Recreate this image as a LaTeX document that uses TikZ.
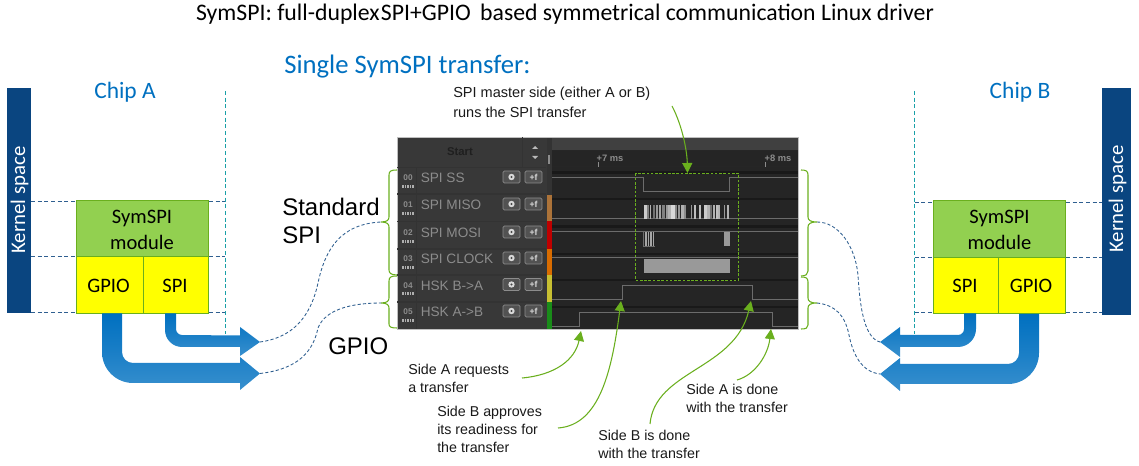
\documentclass[tikz,border=0pt]{standalone}
\usepackage{fontspec}
\setmainfont{Carlito}
\newfontfamily\arialf{Liberation Sans}
\usetikzlibrary{arrows.meta,calc}
\definecolor{bandblue}{HTML}{0A4580}
\definecolor{modgreen}{HTML}{92D050}
\definecolor{modyel}{HTML}{FFFF00}
\definecolor{edgegreen}{HTML}{6AAF1E}
\definecolor{headblue}{HTML}{0070C0}
\definecolor{dashblue}{HTML}{2F5F90}
\definecolor{tealdash}{HTML}{1AA0A8}
\definecolor{panel}{HTML}{383838}
\definecolor{panelhi}{HTML}{404040}
\definecolor{track}{HTML}{252525}
\definecolor{sig}{HTML}{6C6C6C}
\definecolor{lab}{HTML}{8C8C8C}
\tikzset{
  x=0.75pt,y=-0.75pt,
  kernelbar/.style={fill=bandblue,draw=none},
  kerneltxt/.style={rotate=90,text=white,font=\fontsize{15.6}{18}\selectfont,inner sep=0},
  modtop/.style={fill=modgreen,draw=edgegreen,line width=0.7pt},
  modbot/.style={fill=modyel,draw=edgegreen,line width=0.7pt},
  modtxt/.style={font=\fontsize{15.4}{19.5}\selectfont,align=center,inner sep=0},
  spacedash/.style={dash pattern=on 3pt off 2pt,draw=dashblue,line width=0.6pt},
  chipdash/.style={dash pattern=on 3pt off 2pt,draw=tealdash,line width=0.6pt},
  linkdash/.style={dash pattern=on 2.4pt off 1.6pt,draw=dashblue,line width=0.65pt},
  brace/.style={draw=edgegreen,line width=0.8pt},
  note/.style={font=\arialf\fontsize{10.7}{13.6}\selectfont,align=left,anchor=north west,inner sep=0,text=black!90},
  callout/.style={draw=edgegreen,line width=0.8pt,-{Triangle[length=7.5pt,width=7.5pt,fill=edgegreen]}},
  bigtxt/.style={font=\arialf\fontsize{18}{21}\selectfont,inner sep=0,anchor=west},
  chiptxt/.style={text=headblue,font=\fontsize{17.6}{20}\selectfont,inner sep=0},
  signal/.style={draw=sig,line width=0.75pt},
  rowlab/.style={font=\arialf\fontsize{10.2}{12}\selectfont,text=lab,anchor=west,inner sep=0},
  rownum/.style={font=\arialf\bfseries\fontsize{6.2}{7}\selectfont,text=lab,inner sep=0},
  btn/.style={fill=black!68,draw=black!45,rounded corners=1pt,line width=0.5pt},
  flowshade/.style={top color=headblue,bottom color=headblue!78!white,draw=none,middle color=headblue!90!white},
}
\begin{document}
\begin{tikzpicture}
\useasboundingbox (0,0) rectangle (1139,466);
\node[font=\fontsize{17.8}{20}\selectfont,inner sep=0] (title) at (565,14) {SymSPI: full-duplex\hspace{1pt}SPI+GPIO\hspace{7pt}based symmetrical communication Linux driver};
\node[font=\fontsize{20}{23}\selectfont,text=headblue,inner sep=0,anchor=west] (single) at (284,67) {Single SymSPI transfer:};
\node[chiptxt] (chipa) at (125,92) {Chip A};
\node[chiptxt] (chipb) at (1020,92) {Chip B};

% left chip
\draw[chipdash] (225,91) -- (225,334);
\draw[spacedash] (31,201) -- (76,201) (209,201) -- (225,201);
\draw[spacedash] (31,256) -- (76,256) (209,256) -- (225,256);
\draw[spacedash] (31,312.5) -- (76,312.5) (209,312.5) -- (225,312.5);
\fill[kernelbar] (7,88) rectangle (31,313);
\node[kerneltxt] (kernA) at (19.5,200) {Kernel space};
\draw[modtop] (76.5,200.5) rectangle (208.5,256);
\node[modtxt] (modA) at (142,230) {SymSPI\\module};
\draw[modbot] (76.5,256) rectangle (143.5,313);
\draw[modbot] (143.5,256) rectangle (208.5,313);
\node[modtxt] (gpioA) at (108.5,286) {GPIO};
\node[modtxt] (spiA) at (175,286) {SPI};

% right chip
\draw[chipdash] (914.5,91) -- (914.5,334);
\draw[spacedash] (914.5,202) -- (933,202) (1066,202) -- (1102,202);
\draw[spacedash] (914.5,257) -- (933,257) (1066,257) -- (1102,257);
\draw[spacedash] (914.5,312.5) -- (933,312.5) (1066,312.5) -- (1102,312.5);
\fill[kernelbar] (1102,88) rectangle (1131,315);
\node[kerneltxt] (kernB) at (1117.5,199) {Kernel space};
\draw[modtop] (933.5,200.5) rectangle (1065.5,257);
\node[modtxt] (modB) at (999.5,230) {SymSPI\\module};
\draw[modbot] (933.5,257) rectangle (998,313);
\draw[modbot] (998,257) rectangle (1065.5,313);
\node[modtxt] (spiB) at (965,286) {SPI};
\node[modtxt] (gpioB) at (1031,286) {GPIO};

% thick arrows
\coordinate (tipA1) at (260,342);
\coordinate (tipA2) at (260,373.5);
\coordinate (tipB1) at (880,342);
\coordinate (tipB2) at (880,374);
\shade[flowshade] (165,313.5) -- (176,313.5) -- (176,329) arc[start angle=180,end angle=90,radius=6] -- (240,335.5) -- (240,327) -- (tipA1) -- (240,356) -- (240,347) -- (182,347) arc[start angle=90,end angle=180,radius=17] -- cycle;
\shade[flowshade] (102,313.5) -- (122,313.5) -- (122,352) arc[start angle=180,end angle=90,radius=11] -- (240,363) -- (240,357) -- (tipA2) -- (240,390) -- (240,383) -- (133,383) arc[start angle=90,end angle=180,radius=31] -- cycle;
\shade[flowshade] (976,313.5) -- (964,313.5) -- (964,329) arc[start angle=0,end angle=90,radius=6] -- (900,335) -- (900,327) -- (tipB1) -- (900,357) -- (900,347) -- (958,347) arc[start angle=90,end angle=0,radius=18] -- cycle;
\shade[flowshade] (1039,314) -- (1019,314) -- (1019,353) arc[start angle=0,end angle=90,radius=11] -- (900,364) -- (900,358) -- (tipB2) -- (900,391) -- (900,384) -- (1008,384) arc[start angle=90,end angle=0,radius=31] -- cycle;

% logic analyser panel
\fill[panel] (397,137) rectangle (798,329);
\fill[track] (552,138) rectangle (798,329);
\draw[black!25,line width=0.6pt] (397,137) rectangle (798,329);
\fill[panelhi] (552,138) rectangle (798,150);
\fill[black!80] (547,138) rectangle (552,329);
\fill[brown!90!black] (547,195) rectangle (552,221.5);
\fill[red!75!black] (547,221.5) rectangle (552,249);
\fill[orange!85!black] (547,249) rectangle (552,275);
\fill[yellow!75!black] (547,275) rectangle (552,302);
\fill[green!50!black!90!white] (547,302) rectangle (552,329);
\draw[black!85,line width=0.7pt] (552,150) -- (798,150) (552,166.5) -- (798,166.5);
\foreach \yy in {167.5,194,221.5,249,275,302} {
  \draw[black!80,line width=0.8pt] (397,\yy) -- (546,\yy);
  \draw[black!90,line width=1.6pt] (552,\yy+5) -- (798,\yy+5);
}
\draw[black!80,line width=0.6pt] (416,167.5) -- (416,329);
\draw[black!80,line width=0.6pt] (522,137) -- (522,167);
\node[font=\arialf\bfseries\fontsize{8.5}{10}\selectfont,text=black!88,inner sep=0] (start) at (460,152) {Start};
\fill[lab!60] (532,149) -- (538,149) -- (535,146) -- cycle (532,156) -- (538,156) -- (535,159) -- cycle;
\fill[lab] (548,155) rectangle (550,164);
\node[font=\arialf\bfseries\fontsize{7}{8}\selectfont,text=lab,inner sep=0] (t7) at (610,158) {+7 ms};
\node[font=\arialf\bfseries\fontsize{7}{8}\selectfont,text=lab,inner sep=0] (t8) at (778,158) {+8 ms};
\draw[lab,line width=0.4pt] (598,162) -- (598,167) (765,162) -- (765,167);
\foreach \yy/\nn/\tt in {178/00/SPI SS,205/01/SPI MISO,233/02/SPI MOSI,259/03/SPI CLOCK,285.5/04/HSK B->A,312/05/HSK A->B} {
  \node[rownum] at (408,\yy) {\nn};
  \foreach \dx in {403,405.5,408,410.5,413} \fill[lab!70] (\dx-0.8,\yy+7) rectangle (\dx+0.8,\yy+10);
  \node[rowlab] at (420.5,\yy) {\tt};
  \draw[btn] (503,\yy-7) rectangle (520,\yy+5);
  \fill[white!85!black] (511.5,\yy-1) circle[radius=3.2];
  \fill[black!72] (511.5,\yy-1) circle[radius=1.2];
  \draw[btn] (525,\yy-7) rectangle (542,\yy+5);
  \node[font=\arialf\bfseries\fontsize{6.5}{7}\selectfont,text=white!85!black,inner sep=0] at (533.5,\yy-1) {+f};
}
% signals
\draw[signal] (552,178) -- (643,178) -- (643,192) -- (729,192) -- (729,178) -- (798,178);
\draw[signal] (552,219) -- (798,219);
\draw[signal] (552,232) -- (798,232);
\draw[signal] (552,258) -- (798,258);
\draw[signal] (552,300) -- (622,300) -- (622,286) -- (752,286) -- (752,300) -- (798,300);
\draw[signal] (552,327) -- (579,327) -- (579,313) -- (772,313) -- (772,327) -- (798,327);
\foreach \xa/\wa/\gg in {644/3/80,647/2/50,649.5/1.5/70,653/2/45,655.5/2/60,659/2/65,662/3/50,665.5/2/60,668/2.5/70,671/3.5/85,675/2/55,677.5/2.5/60,680.5/3/70,684/2/55,691/1/60,694/2/75,699/1.5/75,704/2.5/80,707/2.5/70,710/2/45,713/2/70,715.5/2.5/75,718/1.5/70,724/1/60,726.5/2.5/70}
  \fill[white!\gg!black] (\xa,205) rectangle ++(\wa,14);
\foreach \xa/\wa in {643/1.2,645/1.5,648/1.2,650/1.5,652.5/1.5}
  \fill[white!65!black] (\xa,232) rectangle ++(\wa,14);
\fill[white!60!black] (723.5,232) rectangle (730,246);
\draw[sig,line width=0.6pt] (643,232) -- (643,246) -- (655,246);
\fill[white!60!black] (643.5,259) rectangle (730,273);
\draw[edgegreen,dash pattern=on 2pt off 1.2pt,line width=0.7pt] (635.5,173.5) rectangle (738.5,280);

% braces
\coordinate (bl1) at (381,222);
\coordinate (bl2) at (381,303);
\coordinate (br1) at (817,222);
\coordinate (br2) at (817,303);
\draw[brace] (397,170) .. controls (391,170) and (389,171) .. (389,175) -- (389,217) .. controls (389,220) and (387,222) .. (bl1) .. controls (387,222) and (389,224) .. (389,227) -- (389,270) .. controls (389,273) and (391,275) .. (397,275);
\draw[brace] (397,276) .. controls (391,276) and (389,277) .. (389,281) -- (389,298) .. controls (389,301) and (387,303) .. (bl2) .. controls (387,303) and (389,305) .. (389,308) -- (389,324) .. controls (389,327) and (391,328) .. (397,328);
\draw[brace] (801,170) .. controls (806,170) and (808,171) .. (808,175) -- (808,217) .. controls (808,220) and (810,222) .. (br1) .. controls (810,222) and (808,224) .. (808,227) -- (808,271) .. controls (808,274) and (806,276) .. (801,276);
\draw[brace] (801,277) .. controls (806,277) and (808,278) .. (808,282) -- (808,298) .. controls (808,301) and (810,303) .. (br2) .. controls (810,303) and (808,305) .. (808,308) -- (808,325) .. controls (808,328) and (806,329) .. (801,329);

% dashed links
\draw[linkdash] (tipA1) .. controls (290,338) and (310,320) .. (318,283) .. controls (325,250) and (340,224) .. (bl1);
\draw[linkdash] (tipA2) .. controls (290,370) and (312,358) .. (318,328) .. controls (325,310) and (350,303) .. (bl2);
\draw[linkdash] (br1) .. controls (838,222) and (855,245) .. (858,275) .. controls (860,310) and (865,338) .. (tipB1);
\draw[linkdash] (br2) .. controls (835,305) and (845,315) .. (849,335) .. controls (853,355) and (862,372) .. (tipB2);

% text
\node[bigtxt,align=left] (std) at (282,221) {Standard\\SPI};
\node[bigtxt] (gpiolab) at (328,346.5) {GPIO};
\node[note,font=\arialf\fontsize{10.9}{15}\selectfont] (n1) at (453,87) {SPI master side (either A or B)\\runs the SPI transfer};
\node[note] (n2) at (408,364) {Side A requests\\a transfer};
\node[note] (n3) at (437,406) {Side B approves\\its readiness for\\the transfer};
\node[note] (n4) at (598,430) {Side B is done\\with the transfer};
\node[note] (n5) at (686,384) {Side A is done\\with the transfer};
\coordinate (c1) at (672,106);
\coordinate (e1) at (687.5,173);
\coordinate (c2) at (522,378);
\coordinate (e2) at (581,331);
\coordinate (c3) at (558,428);
\coordinate (e3) at (621,301);
\coordinate (c4) at (650,424);
\coordinate (e4) at (751,301);
\coordinate (c5) at (737,380);
\coordinate (e5) at (771,329);
\draw[callout] (c1) .. controls (682,125) and (687,150) .. (e1);
\draw[callout] (c2) .. controls (555,375) and (575,360) .. (e2);
\draw[callout] (c3) .. controls (600,425) and (612,370) .. (e3);
\draw[callout] (c4) .. controls (655,370) and (735,370) .. (e4);
\draw[callout] (c5) .. controls (755,375) and (768,355) .. (e5);
\end{tikzpicture}
\end{document}
